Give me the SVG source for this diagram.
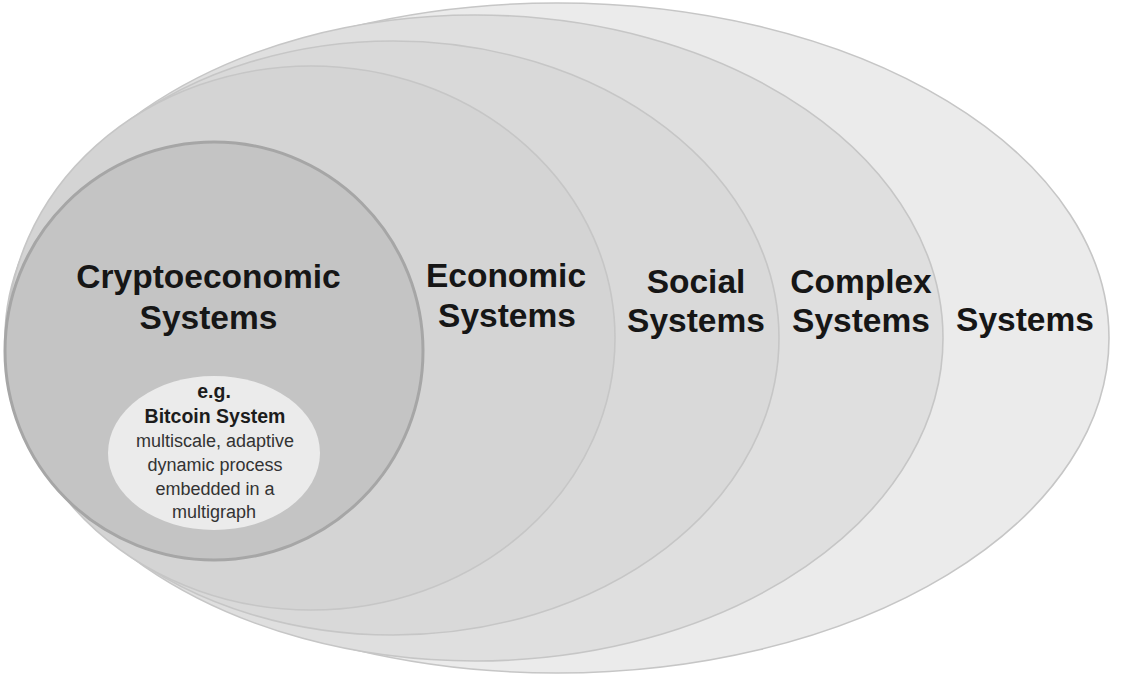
<svg xmlns="http://www.w3.org/2000/svg" width="1121" height="698" viewBox="0 0 1121 698">
<style>
.ring{stroke:#c6c6c6;stroke-width:1.6}
.big{font-family:"Liberation Sans",Arial,sans-serif;font-weight:bold;font-size:33.5px;fill:#161616;text-anchor:middle}
.sb{font-family:"Liberation Sans",Arial,sans-serif;font-weight:bold;font-size:19.5px;fill:#1c1c1c;text-anchor:middle}
.sr{font-family:"Liberation Sans",Arial,sans-serif;font-size:18px;fill:#333;text-anchor:middle}
</style>
<rect width="1121" height="698" fill="#ffffff"/>
<g id="systems">
<ellipse class="ring" cx="557" cy="338" rx="552" ry="335" fill="#ebebeb"/>
<text class="big" x="1025" y="331">Systems</text>
</g>
<g id="complex-systems">
<ellipse class="ring" cx="475" cy="338" rx="468" ry="323" fill="#dfdfdf"/>
<text class="big" x="861" y="293">Complex</text>
<text class="big" x="861" y="332">Systems</text>
</g>
<g id="social-systems">
<ellipse class="ring" cx="393" cy="338" rx="386" ry="297" fill="#d9d9d9"/>
<text class="big" x="696" y="293">Social</text>
<text class="big" x="696" y="332">Systems</text>
</g>
<g id="economic-systems">
<ellipse class="ring" cx="311" cy="338" rx="304" ry="272" fill="#d4d4d4"/>
<text class="big" x="506" y="287">Economic</text>
<text class="big" x="507" y="327">Systems</text>
</g>
<g id="cryptoeconomic-systems">
<ellipse cx="214" cy="351" rx="209" ry="209" fill="#c4c4c4" stroke="#a6a6a6" stroke-width="3"/>
<text class="big" x="208.5" y="288">Cryptoeconomic</text>
<text class="big" x="208.5" y="329">Systems</text>
</g>
<g id="bitcoin-system">
<ellipse cx="214" cy="453" rx="106" ry="77" fill="#ebebeb"/>
<text class="sb" x="214" y="398">e.g.</text>
<text class="sb" x="215" y="423">Bitcoin System</text>
<text class="sr" x="215" y="447">multiscale, adaptive</text>
<text class="sr" x="215" y="471">dynamic process</text>
<text class="sr" x="215" y="495">embedded in a</text>
<text class="sr" x="214" y="518">multigraph</text>
</g>
<g id="connectors"/>
</svg>
